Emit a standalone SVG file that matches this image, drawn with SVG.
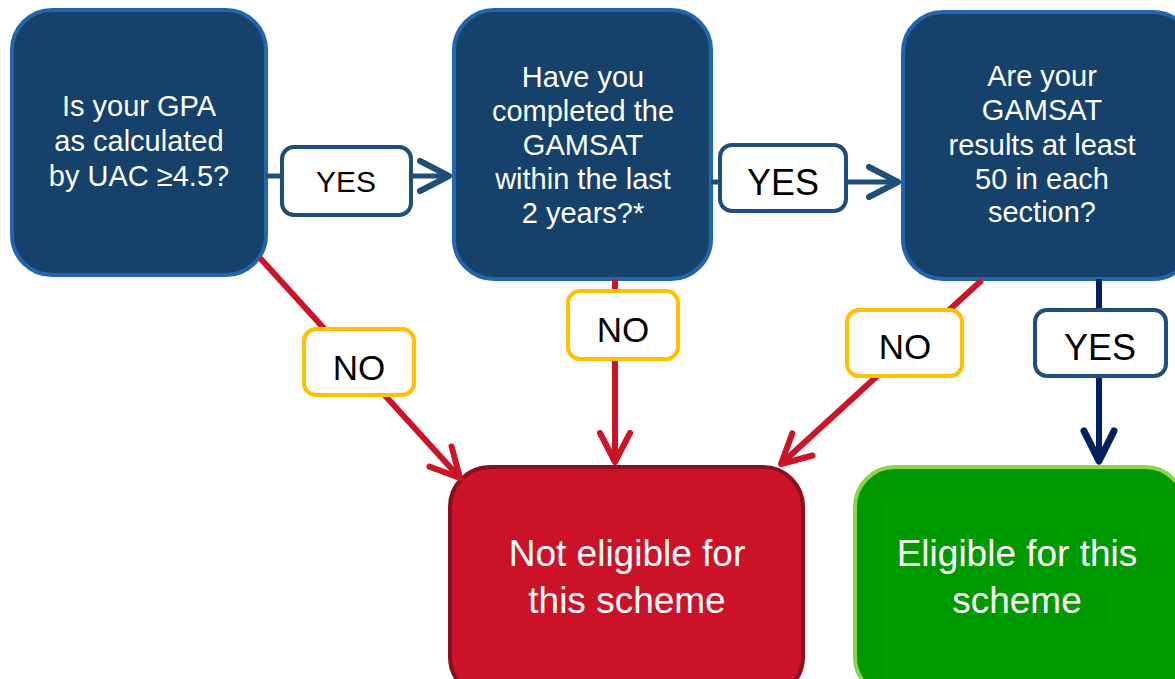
<svg xmlns="http://www.w3.org/2000/svg" width="1175" height="679" viewBox="0 0 1175 679">
  <style>
    .q { fill: #15416b; stroke: #2166ac; stroke-width: 4; }
    .qt { fill: #ffffff; font-family: "Liberation Sans", Arial, sans-serif; font-size: 29px; text-anchor: middle; }
    .rt { fill: #ffffff; font-family: "Liberation Sans", Arial, sans-serif; font-size: 37px; text-anchor: middle; }
    .lb-yes { fill: #ffffff; stroke: #1f4e79; stroke-width: 4; }
    .lb-no { fill: #ffffff; stroke: #ffc000; stroke-width: 4; }
    .lt { fill: #000000; font-family: "Liberation Sans", Arial, sans-serif; font-size: 35px; text-anchor: middle; }
    .blue { stroke: #1f4e79; stroke-width: 5; fill: none; }
    .red { stroke: #cc1428; stroke-width: 6; fill: none; }
    .navy { stroke: #002060; stroke-width: 6; fill: none; }
  </style>
  <defs>
    <marker id="ah-blue" markerUnits="userSpaceOnUse" viewBox="-36 -22 42 44" markerWidth="42" markerHeight="44" refX="0" refY="0" orient="auto">
      <path d="M-29,-15 L0,0 L-29,15" fill="none" stroke="#1f4e79" stroke-width="6" stroke-linecap="round" stroke-linejoin="round"/>
    </marker>
    <marker id="ah-red" markerUnits="userSpaceOnUse" viewBox="-36 -22 42 44" markerWidth="42" markerHeight="44" refX="0" refY="0" orient="auto">
      <path d="M-29,-15 L0,0 L-29,15" fill="none" stroke="#cc1428" stroke-width="6" stroke-linecap="round" stroke-linejoin="round"/>
    </marker>
    <marker id="ah-navy" markerUnits="userSpaceOnUse" viewBox="-36 -22 42 44" markerWidth="42" markerHeight="44" refX="0" refY="0" orient="auto">
      <path d="M-30,-15 L0,0 L-30,15" fill="none" stroke="#002060" stroke-width="7" stroke-linecap="round" stroke-linejoin="round"/>
    </marker>
  </defs>

  <g id="node-gpa">
    <rect class="q" x="12" y="10" width="254" height="265" rx="40"/>
    <text class="qt" x="139" y="116">Is your GPA</text>
    <text class="qt" x="139" y="151">as calculated</text>
    <text class="qt" x="139" y="186">by UAC ≥4.5?</text>
  </g>

  <g id="node-gamsat-completed">
    <rect class="q" x="454" y="10" width="257" height="269" rx="40"/>
    <text class="qt" x="583" y="87">Have you</text>
    <text class="qt" x="583" y="121">completed the</text>
    <text class="qt" x="583" y="155">GAMSAT</text>
    <text class="qt" x="583" y="189">within the last</text>
    <text class="qt" x="583" y="223">2 years?*</text>
  </g>

  <g id="node-gamsat-results">
    <rect class="q" x="903" y="12" width="290" height="267" rx="40"/>
    <text class="qt" x="1042" y="86">Are your</text>
    <text class="qt" x="1042" y="120">GAMSAT</text>
    <text class="qt" x="1042" y="155">results at least</text>
    <text class="qt" x="1042" y="189">50 in each</text>
    <text class="qt" x="1042" y="222">section?</text>
  </g>

  <g id="node-not-eligible">
    <rect x="450" y="467" width="353" height="230" rx="40" fill="#cc1228" stroke="#8b0e1d" stroke-width="4"/>
    <text class="rt" x="627" y="566">Not eligible for</text>
    <text class="rt" x="627" y="613">this scheme</text>
  </g>

  <g id="node-eligible">
    <rect x="855" y="467" width="330" height="230" rx="40" fill="#009900" stroke="#92d050" stroke-width="4"/>
    <text class="rt" x="1017" y="566">Eligible for this</text>
    <text class="rt" x="1017" y="613">scheme</text>
  </g>

  <g id="connectors">
    <line class="blue" x1="266" y1="176" x2="449" y2="176" marker-end="url(#ah-blue)"/>
    <line class="blue" x1="711" y1="182" x2="898" y2="182" marker-end="url(#ah-blue)"/>
    <line class="navy" x1="1099" y1="279" x2="1099" y2="461" marker-end="url(#ah-navy)"/>
    <line class="red" x1="260" y1="258" x2="460" y2="478" marker-end="url(#ah-red)"/>
    <line class="red" x1="615" y1="279" x2="615" y2="462" marker-end="url(#ah-red)"/>
    <line class="red" x1="982" y1="280" x2="781" y2="464" marker-end="url(#ah-red)"/>

    <g id="label-yes-1">
      <rect class="lb-yes" x="282" y="147" width="129" height="68" rx="12"/>
      <text class="lt" x="346" y="192" style="font-size:30px">YES</text>
    </g>
    <g id="label-yes-2">
      <rect class="lb-yes" x="720" y="145" width="126" height="66" rx="12"/>
      <text class="lt" x="783" y="195" style="font-size:36px">YES</text>
    </g>
    <g id="label-yes-3">
      <rect class="lb-yes" x="1035" y="310" width="131" height="66" rx="12"/>
      <text class="lt" x="1100" y="360" style="font-size:36px">YES</text>
    </g>
    <g id="label-no-1">
      <rect class="lb-no" x="304" y="329" width="110" height="66" rx="12"/>
      <text class="lt" x="359" y="380">NO</text>
    </g>
    <g id="label-no-2">
      <rect class="lb-no" x="568" y="291" width="110" height="68" rx="12"/>
      <text class="lt" x="623" y="342">NO</text>
    </g>
    <g id="label-no-3">
      <rect class="lb-no" x="847" y="310" width="115" height="66" rx="12"/>
      <text class="lt" x="905" y="359">NO</text>
    </g>
  </g>
</svg>
